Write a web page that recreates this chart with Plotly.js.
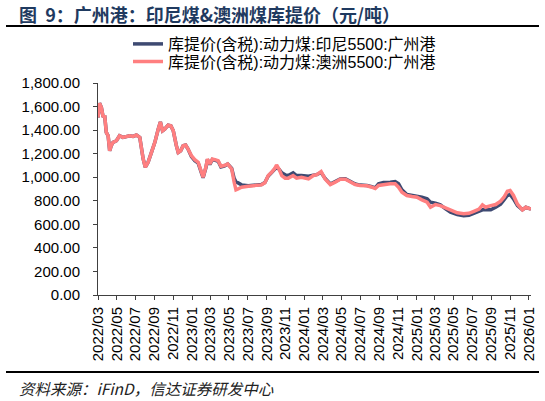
<!DOCTYPE html>
<html>
<head>
<meta charset="utf-8">
<script src="https://cdn.plot.ly/plotly-3.0.1.min.js"></script>
<style>
  html, body { margin: 0; padding: 0; background: #fff; }
  #chart { width: 545px; height: 401px; }
</style>
</head>
<body>
<div id="chart"></div>
<script>
// ---- data ----
const dates = [
  "2022-03-01","2022-03-06","2022-03-12","2022-03-17","2022-03-23","2022-03-28","2022-04-03","2022-04-08",
  "2022-04-13","2022-04-19","2022-04-30","2022-05-10","2022-05-21","2022-06-01","2022-06-12","2022-06-23",
  "2022-07-04","2022-07-15","2022-07-20","2022-07-26","2022-08-02","2022-08-11","2022-08-22","2022-09-02",
  "2022-09-13","2022-09-20","2022-09-27","2022-10-04","2022-10-15","2022-10-24","2022-11-01","2022-11-06",
  "2022-11-11","2022-11-17","2022-11-25","2022-12-03","2022-12-11","2022-12-19","2022-12-30","2023-01-10",
  "2023-01-21","2023-01-30","2023-02-06","2023-02-15","2023-02-20","2023-02-28","2023-03-08","2023-03-16",
  "2023-03-27","2023-04-05","2023-04-16","2023-04-27","2023-05-10","2023-05-18","2023-05-24","2023-05-31",
  "2023-06-11","2023-07-03","2023-07-25","2023-08-15","2023-08-26","2023-09-06","2023-09-17","2023-09-26",
  "2023-10-03","2023-10-11","2023-10-20","2023-10-31","2023-11-10","2023-11-26","2023-12-07","2023-12-23",
  "2024-01-15","2024-01-31","2024-02-11","2024-02-25","2024-03-09","2024-03-26","2024-04-11","2024-04-27",
  "2024-05-14","2024-05-30","2024-06-15","2024-07-01","2024-07-23","2024-08-08","2024-08-19","2024-08-30",
  "2024-09-15","2024-10-07","2024-10-23","2024-11-03","2024-11-14","2024-11-30","2024-12-17","2025-01-02",
  "2025-01-18","2025-02-04","2025-02-15","2025-03-03","2025-03-19","2025-04-05","2025-04-21","2025-05-13",
  "2025-06-03","2025-06-20","2025-07-06","2025-07-23","2025-08-03","2025-08-13","2025-08-30","2025-09-15",
  "2025-10-01","2025-10-12","2025-10-23","2025-11-01","2025-11-12","2025-11-25","2025-12-11","2025-12-22",
  "2026-01-08"
];
const indonesia5500 = [
  1507,1628,1592,1521,1515,1380,1352,1225,
  1268,1296,1310,1352,1338,1346,1352,1346,
  1358,1338,1239,1155,1085,1127,1211,1296,
  1408,1470,1394,1408,1442,1437,1394,1310,
  1268,1211,1225,1268,1273,1239,1175,1140,
  1120,1050,995,1080,1150,1108,1150,1145,
  1135,1088,1095,1113,1075,990,960,952,
  935,928,932,938,955,1010,1040,1065,
  1085,1068,1037,1020,1014,1037,1014,1014,
  1008,1018,1022,1040,990,942,962,985,
  987,962,942,933,930,920,910,944,
  955,958,963,944,893,853,845,842,
  830,816,788,779,765,731,703,684,
  673,676,694,711,723,723,723,745,
  771,808,845,853,816,759,723,745,
  730
];
const australia5500 = [
  1507,1628,1592,1521,1515,1380,1352,1225,
  1268,1296,1310,1352,1338,1346,1352,1346,
  1358,1338,1239,1155,1085,1127,1211,1296,
  1408,1470,1394,1408,1442,1437,1394,1310,
  1268,1211,1225,1268,1273,1239,1183,1149,
  1127,1056,1000,1085,1155,1113,1155,1149,
  1141,1093,1099,1113,1070,958,893,900,
  915,924,930,935,952,1014,1042,1070,
  1104,1070,1014,992,992,1014,992,1000,
  986,1015,1022,1048,986,938,958,983,
  983,958,938,930,927,915,904,930,
  938,944,944,915,873,845,836,830,
  808,788,745,768,759,740,717,698,
  689,694,711,730,765,745,759,768,
  796,830,881,887,845,771,723,745,
  730
];
const seriesNames = [
  "库提价(含税):动力煤:印尼5500:广州港",
  "库提价(含税):动力煤:澳洲5500:广州港"
];
const titleText = "图  9：广州港：印尼煤&澳洲煤库提价（元/吨）";
const sourceText = "资料来源：iFinD，信达证券研发中心";
const yTickVals = [0,200,400,600,800,1000,1200,1400,1600,1800];
const xRange = ["2022-03-01", "2026-01-08"];
const yRange = [0, 1800];

// ---- layout geometry (pixels) ----
const W = 545, H = 401;
const L = 98, R = 14, T = 83, B = 106;
const pw = W - L - R, ph = H - T - B;
const px = x => (x - L) / pw;
const py = y => (H - B - y) / ph;

const FONT = "'Liberation Sans', Arial, 'Noto Sans CJK SC', sans-serif";
const AXC = "#404040";

const traces = [
  {
    x: dates, y: indonesia5500, name: seriesNames[0], type: "scatter", mode: "lines",
    legend: "legend",
    line: { color: "#3E4A72", width: 3.5 }
  },
  {
    x: dates, y: australia5500, name: seriesNames[1], type: "scatter", mode: "lines",
    legend: "legend2",
    line: { color: "#FF7F80", width: 3.5 }
  }
];

const legendBase = {
  orientation: "v",
  xref: "paper", yref: "paper",
  x: px(128), xanchor: "left",
  yanchor: "middle",
  font: { family: FONT, size: 16, color: "#000" },
  itemwidth: 30,
  borderwidth: 0,
  bgcolor: "rgba(0,0,0,0)"
};

const layout = {
  width: W, height: H,
  margin: { l: L, r: R, t: T, b: B, pad: 0, autoexpand: false },
  paper_bgcolor: "#fff", plot_bgcolor: "#fff",
  font: { family: FONT, size: 15, color: "#000" },
  showlegend: true,
  legend: Object.assign({}, legendBase, { y: py(44) }),
  legend2: Object.assign({}, legendBase, { y: py(61.5) }),
  xaxis: {
    type: "date",
    range: xRange,
    tick0: "2022-03-01", dtick: "M2",
    tickformat: "%Y/%m",
    tickangle: -90,
    ticks: "outside", ticklen: 4, tickcolor: AXC, tickwidth: 1,
    showline: true, linecolor: AXC, linewidth: 1,
    showgrid: false, zeroline: false,
    tickfont: { family: FONT, size: 15, color: "#000" },
    ticklabelstandoff: 1,
    automargin: false,
    fixedrange: true
  },
  yaxis: {
    range: yRange,
    tickvals: yTickVals,
    tickformat: ",.2f",
    ticks: "outside", ticklen: 4, tickcolor: AXC, tickwidth: 1,
    showline: true, linecolor: AXC, linewidth: 1,
    showgrid: false, zeroline: false,
    tickfont: { family: FONT, size: 15, color: "#000" },
    ticklabelstandoff: 10,
    automargin: false,
    fixedrange: true
  },
  // overlay axes that only draw the inner half of the crossing tick marks
  xaxis2: {
    type: "date", overlaying: "x", anchor: "y", side: "bottom",
    range: xRange, tick0: "2022-03-01", dtick: "M2",
    ticks: "inside", ticklen: 3, tickcolor: AXC, tickwidth: 1,
    showticklabels: false, showline: false, showgrid: false, zeroline: false,
    automargin: false, fixedrange: true
  },
  yaxis2: {
    overlaying: "y", anchor: "x", side: "left",
    range: yRange, tickvals: yTickVals,
    ticks: "inside", ticklen: 3, tickcolor: AXC, tickwidth: 1,
    showticklabels: false, showline: false, showgrid: false, zeroline: false,
    automargin: false, fixedrange: true
  },
  shapes: [
    { type: "line", xref: "paper", yref: "paper", x0: px(6), x1: px(539), y0: py(26), y1: py(26),
      line: { color: "#000", width: 2.2 } },
    { type: "line", xref: "paper", yref: "paper", x0: px(6), x1: px(539), y0: py(372), y1: py(372),
      line: { color: "#000", width: 2.2 } }
  ],
  annotations: [
    { xref: "paper", yref: "paper", x: px(17), y: py(14), xanchor: "left", yanchor: "middle",
      text: "<b>" + titleText + "</b>", showarrow: false,
      font: { family: "'Noto Sans CJK SC', sans-serif", size: 18, color: "#1F3A60" } },
    { xref: "paper", yref: "paper", x: px(17), y: py(388), xanchor: "left", yanchor: "middle",
      text: "<i>" + sourceText + "</i>", showarrow: false,
      font: { family: "'Noto Sans CJK SC', sans-serif", size: 15.5, color: "#222" } }
  ]
};

Plotly.newPlot("chart", traces, layout, { displayModeBar: false, staticPlot: true });
</script>
</body>
</html>
